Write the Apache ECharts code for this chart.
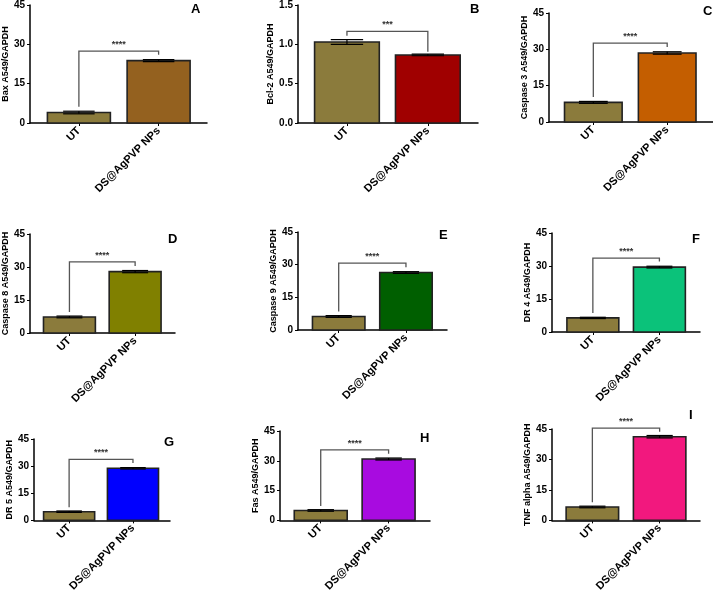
<!DOCTYPE html>
<html>
<head>
<meta charset="utf-8">
<script src="https://cdn.jsdelivr.net/npm/echarts@6/dist/echarts.min.js"></script>
<style>html,body{margin:0;padding:0;background:#fff}#c{width:713px;height:594px}</style>
</head>
<body>
<div id="c"></div>
<script>
// ---- data ----
const categories = ['UT', 'DS@AgPVP NPs'];
const panelLetters = ['A', 'B', 'C', 'D', 'E', 'F', 'G', 'H', 'I'];
const yTitles = ['Bax A549/GAPDH', 'Bcl-2 A549/GAPDH', 'Caspase 3 A549/GAPDH', 'Caspase 8 A549/GAPDH',
  'Caspase 9 A549/GAPDH', 'DR 4 A549/GAPDH', 'DR 5 A549/GAPDH', 'Fas A549/GAPDH', 'TNF alpha A549/GAPDH'];
const utValues = [4.0, 1.03, 8.1, 7.3, 6.2, 6.4, 4.8, 5.0, 6.6];
const utErrors = [0.5, 0.03, 0.4, 0.4, 0.4, 0.3, 0.4, 0.4, 0.4];
const dsValues = [23.8, 0.865, 28.5, 27.9, 26.4, 29.5, 28.8, 30.9, 41.2];
const dsErrors = [0.4, 0.01, 0.5, 0.5, 0.4, 0.4, 0.4, 0.5, 0.6];
const sigLabels = ['****', '***', '****', '****', '****', '****', '****', '****', '****'];
const bracketTop = [27.4, 1.165, 32.6, 32.3, 30.7, 33.6, 33.7, 35.5, 45.4];
const bracketLeftEnd = [6.2, 1.11, 10.3, 9.6, 8.5, 8.6, 7.3, 7.3, 8.9];
const bracketRightEnd = [26.0, 0.905, 31.0, 30.4, 28.8, 32.1, 31.7, 33.6, 43.7];
const yMaxes = [45, 1.5, 45, 45, 45, 45, 45, 45, 45];
const yIntervals = [15, 0.5, 15, 15, 15, 15, 15, 15, 15];

// ---- styles / layout ----
const utColor = '#8B7B3C';
const dsColors = ['#94611F', '#A00000', '#C45E00', '#808000', '#005F00', '#0BC27A', '#0000FF', '#A80BE0', '#F2187E'];
const grids = [
  {left: 26, top: 4, width: 181, height: 119},
  {left: 298, top: 3, width: 180, height: 120},
  {left: 549, top: 13, width: 166, height: 109},
  {left: 27, top: 234, width: 148, height: 99},
  {left: 298, top: 232, width: 149, height: 98},
  {left: 552, top: 233, width: 148, height: 99},
  {left: 34, top: 439, width: 136, height: 89},
  {left: 280, top: 431, width: 150, height: 98},
  {left: 552, top: 429, width: 148, height: 99}
];
const xExt = [[0.613, 0.607], [0.605, 0.62], [0.6, 0.62], [0.6, 0.607], [0.605, 0.61], [0.614, 0.61], [0.55, 0.58], [0.6, 0.61], [0.6, 0.6]];
const barW = [0.79, 0.80, 0.78, 0.79, 0.78, 0.78, 0.8, 0.78, 0.78];
const nameGaps = [17, 21, 17, 17, 15, 16, 15, 15, 16];
const letterPos = [[186, -2], [465, -2], [698, 0], [163, 228], [434, 224], [687, 228], [159, 431], [415, 427], [684, 404]];
const FONT = '"Liberation Sans", Arial, sans-serif';

const option = {
  animation: false,
  backgroundColor: '#fff',
  grid: [], xAxis: [], yAxis: [], series: [], title: []
};

for (let i = 0; i < 9; i++) {
  option.grid.push(Object.assign({containLabel: false}, grids[i]));
  option.title.push({
    text: panelLetters[i], left: letterPos[i][0], top: letterPos[i][1],
    textStyle: {fontFamily: FONT, fontWeight: 'bold', fontSize: 13, color: '#000'}
  });
  option.xAxis.push({
    type: 'value', gridIndex: i, min: -xExt[i][0], max: 1 + xExt[i][1],
    splitLine: {show: false},
    axisLine: {show: true, onZero: false, lineStyle: {color: '#000', width: 1.5}},
    axisTick: {show: true, customValues: [0, 1], length: 3, lineStyle: {color: '#000', width: 1}},
    axisLabel: {
      customValues: [0, 1], rotate: 45, margin: 6,
      formatter: v => categories[Math.round(v)],
      fontFamily: FONT, fontWeight: 'bold', fontSize: 11, color: '#000'
    }
  });
  const dec = yIntervals[i] < 1 ? 1 : 0;
  option.yAxis.push({
    type: 'value', gridIndex: i, min: 0, max: yMaxes[i], interval: yIntervals[i],
    splitLine: {show: false},
    axisLine: {show: true, onZero: false, lineStyle: {color: '#000', width: 1.5}},
    axisTick: {show: true, length: 3, lineStyle: {color: '#000', width: 1}},
    axisLabel: {margin: 5, formatter: v => v.toFixed(dec), fontFamily: FONT, fontWeight: 'bold', fontSize: 10, color: '#000'},
    name: yTitles[i], nameLocation: 'middle', nameGap: nameGaps[i], nameRotate: 90,
    nameTextStyle: {fontFamily: FONT, fontWeight: 'bold', fontSize: 9, color: '#000'}
  });
  const bw = barW[i];
  const colors = [utColor, dsColors[i]];
  option.series.push({
    type: 'custom', xAxisIndex: i, yAxisIndex: i, clip: false,
    data: [[0, utValues[i], utErrors[i]], [1, dsValues[i], dsErrors[i]]],
    renderItem: function (params, api) {
      const x = api.value(0), v = api.value(1), e = api.value(2);
      const p0 = api.coord([x, 0]);
      const p1 = api.coord([x, v]);
      const w = api.size([1, 0])[0] * bw;
      const hi = api.coord([x, v + e]);
      const lo = api.coord([x, v - e]);
      const cw = w * 0.5;
      const ls = {stroke: '#000', lineWidth: 1.2};
      return {
        type: 'group',
        children: [
          {type: 'rect', shape: {x: p1[0] - w / 2, y: p1[1], width: w, height: p0[1] - p1[1]},
            style: {fill: colors[x], stroke: '#222', lineWidth: 1.6}},
          {type: 'line', shape: {x1: hi[0], y1: hi[1], x2: lo[0], y2: lo[1]}, style: ls},
          {type: 'line', shape: {x1: hi[0] - cw / 2, y1: hi[1], x2: hi[0] + cw / 2, y2: hi[1]}, style: ls},
          {type: 'line', shape: {x1: lo[0] - cw / 2, y1: lo[1], x2: lo[0] + cw / 2, y2: lo[1]}, style: ls}
        ]
      };
    }
  });
  option.series.push({
    type: 'custom', xAxisIndex: i, yAxisIndex: i, clip: false,
    data: [[0, bracketTop[i], bracketLeftEnd[i], 1, bracketRightEnd[i]]],
    renderItem: function (params, api) {
      const a = api.coord([api.value(0), api.value(2)]);
      const b = api.coord([api.value(0), api.value(1)]);
      const c = api.coord([api.value(3), api.value(1)]);
      const d = api.coord([api.value(3), api.value(4)]);
      return {
        type: 'group',
        children: [
          {type: 'polyline', shape: {points: [a, b, c, d]}, style: {stroke: '#555', lineWidth: 1.3, fill: null}},
          {type: 'text', x: (b[0] + c[0]) / 2, y: b[1] - 2,
            style: {text: sigLabels[i], align: 'center', verticalAlign: 'bottom',
              font: 'bold 9px ' + FONT, fill: '#333'}}
        ]
      };
    }
  });
}

const chart = echarts.init(document.getElementById('c'), null, {renderer: 'canvas'});
chart.setOption(option);
</script>
</body>
</html>
